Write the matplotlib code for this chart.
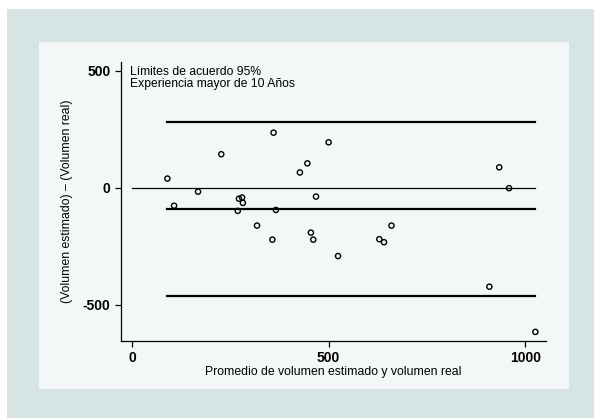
import numpy as np
import matplotlib
matplotlib.use('Agg')
import matplotlib as mpl
from matplotlib import pyplot as plt
from matplotlib.patches import Rectangle

# font and colours
mpl.rcParams['font.family'] = ['Liberation Sans', 'DejaVu Sans']
c_outer = '#d6e4e4'
c_inner = '#f3f7f8'

# data: mean of (estimated, real) vs difference
promedio = [360, 227, 90, 168, 107, 272, 280, 282, 269, 366, 318, 357, 500,
            446, 427, 468, 660, 455, 461, 524, 629, 641, 934, 959, 909, 1026]
diferencia = [236, 144, 40, -16, -76, -46, -41, -64, -98, -94, -161, -221, 195,
              105, 66, -37, -161, -191, -221, -291, -219, -232, 88, -1, -422, -615]

xticks = [0, 500, 1000]
yticks = [500, 0, -500]
ytick_labels = ['500', '0', '-500']

xlabel = 'Promedio de volumen estimado y volumen real'
ylabel = '(Volumen estimado) \u2013 (Volumen real)'
note = 'L\u00edmites de acuerdo 95%\nExperiencia mayor de 10 A\u00f1os'

#####
# limits of agreement
x = np.array(promedio)
d = np.array(diferencia)
media = d.mean()
sd = d.std(ddof=1)
sup = media + 1.96 * sd
inf = media - 1.96 * sd

#####
# figure with the two background panels
W, H = 594, 418
fig = plt.figure(figsize=(W / 100, H / 100), dpi=100)
fig.patch.set_facecolor('white')
fig.patches.append(Rectangle((7 / W, 0), 587 / W, 409 / H, transform=fig.transFigure,
                             facecolor=c_outer, edgecolor='none', zorder=-10))
fig.patches.append(Rectangle((39 / W, 29 / H), 530 / W, 347 / H, transform=fig.transFigure,
                             facecolor=c_inner, edgecolor='none', zorder=-9))

ax = fig.add_axes([121 / W, (H - 341) / H, 425 / W, 279 / H])
ax.set_facecolor('none')

# zero line, mean and limits
ax.plot([0, x.max()], [0, 0], color='black', lw=0.9)
for val in [sup, media, inf]:
    ax.plot([x.min(), x.max()], [val, val], color='black', lw=1.6)

ax.scatter(x, d, s=14, facecolors='none', edgecolors='black', linewidths=1.0, zorder=3)

ax.set_xlim(-28, 1053)
ax.set_ylim(-654, 538)

for side in ['top', 'right']:
    ax.spines[side].set_visible(False)
for side in ['left', 'bottom']:
    ax.spines[side].set_linewidth(0.9)

ax.set_xticks(xticks)
ax.set_yticks(yticks)
ax.set_yticklabels(ytick_labels)
ax.tick_params(direction='out', length=4.5, width=0.9, labelsize=10, pad=3)
for lbl in ax.get_xticklabels() + ax.get_yticklabels():
    lbl.set_fontweight('bold')

ax.set_xlabel(xlabel, fontsize=8.8, labelpad=0.5)
ax.set_ylabel(ylabel, fontsize=8.8, labelpad=7)

ax.text(0.02, 0.985, note, transform=ax.transAxes, ha='left', va='top',
        fontsize=8.7, linespacing=1.0)

fig.savefig('out.png', dpi=100)
